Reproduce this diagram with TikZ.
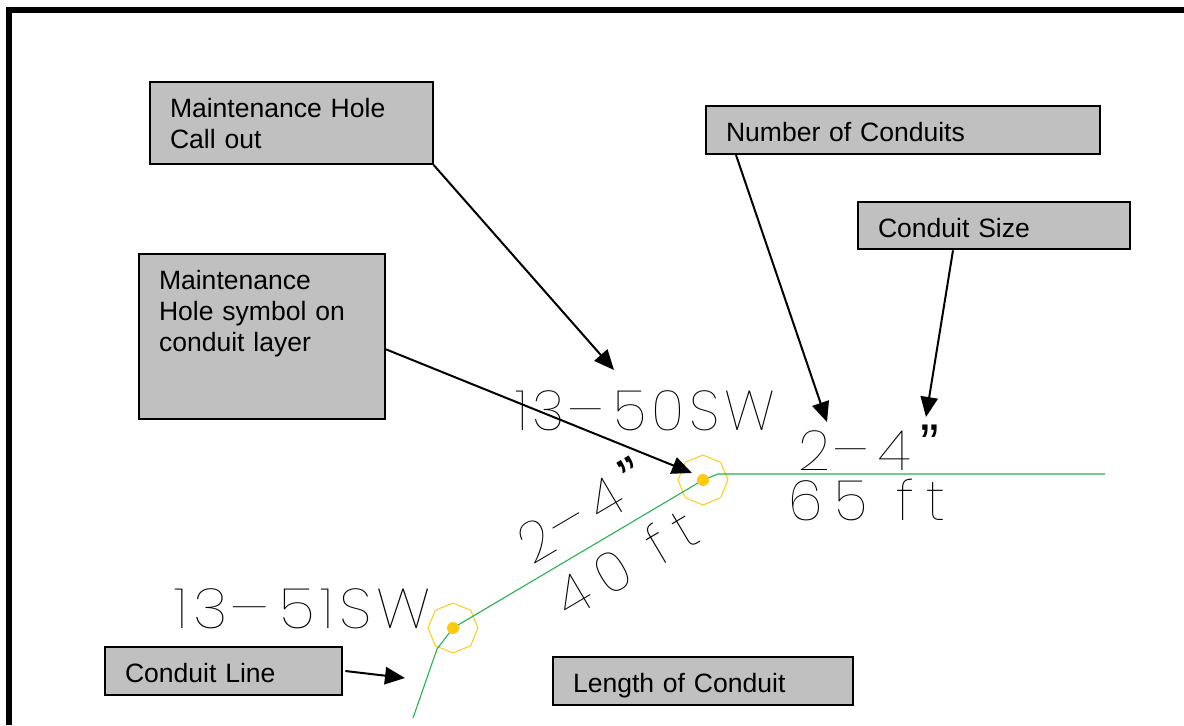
\documentclass[tikz,border=0pt]{standalone}
\usepackage{graphicx}
\usepackage{fontspec}
\setmainfont{Liberation Sans}
\newfontfamily\cadfont{Poppins Thin}[LetterSpace=9]
\newfontfamily\cadwide{Poppins Thin}[LetterSpace=22]
\newcommand{\cadquote}{\hspace{8pt}\raisebox{5pt}{\normalfont ”}}
\newcommand{\caddash}{\hspace{6pt}\scalebox{1.5}[1]{-}\hspace{2pt}}
\usetikzlibrary{arrows.meta,shapes.geometric}

\definecolor{boxgray}{HTML}{C0C0C0}
\definecolor{conduitgreen}{HTML}{22B14C}
\definecolor{holeyellow}{HTML}{FFC90E}
\tikzstyle{callout}=[draw=black, line width=1.5pt, fill=boxgray, anchor=north west, align=left, inner xsep=15pt, inner ysep=0pt, text height=26.5pt, font=\fontsize{19.9}{23.4}\selectfont]
\tikzstyle{cadtext}=[font=\cadfont\fontsize{42}{42}\selectfont, inner sep=0pt, text=black]
\tikzstyle{cadsize}=[font=\cadwide\fontsize{42}{42}\selectfont, inner sep=0pt, text=black]
\tikzstyle{pointer}=[line width=1.5pt, -{Triangle[length=15pt,width=13pt]}]
\tikzstyle{conduit}=[draw=conduitgreen, line width=0.8pt]
\tikzstyle{holering}=[regular polygon, regular polygon sides=8, shape border rotate=22.5, draw=holeyellow, line width=0.7pt, minimum size=37.5pt, inner sep=0pt]
\tikzstyle{holedot}=[circle, fill=holeyellow, minimum size=9pt, inner sep=0pt]

\begin{document}
\begin{tikzpicture}[x=0.75pt,y=-0.75pt]
    \useasboundingbox (0,0) rectangle (1184,725);
    \path[fill=white] (0,0) rectangle (1184,725);
    \draw[line width=4.5pt] (9,725) -- (9,10) -- (1184,10);

    % callout boxes
    \node[callout, text width=182pt, text depth=35pt] (callout) at (149,81) {Maintenance Hole\\Call out};
    \node[callout, text width=154.5pt, text depth=97pt] (symbol) at (138,253) {Maintenance\\Hole symbol on\\conduit layer};
    \node[callout, text width=265.5pt, text depth=9.5pt] (number) at (705,105) {Number of Conduits};
    \node[callout, text width=174pt, text depth=9pt] (size) at (857,201) {Conduit Size};
    \node[callout, text width=148pt, text depth=9.5pt] (line) at (104,646) {Conduit Line};
    \node[callout, text width=195pt, text depth=9.5pt] (length) at (552,656) {Length of Conduit};

    % conduit run
    \node[holering] (mh1) at (703,480) {};
    \node[holering] (mh2) at (453,628) {};
    \coordinate (c1) at (413,718);
    \coordinate (c2) at (437,649);
    \coordinate (c3) at (718,474);
    \coordinate (c4) at (1105,474);
    \path[conduit]
    (c1) -- (c2) -- (mh2.center) -- (mh1.center) -- (c3) -- (c4)
	;
    \node[holedot] (dot1) at (mh1.center) {};
    \node[holedot] (dot2) at (mh2.center) {};

    % cad labels
    \node[cadtext] (label1) at (645,411) {13\caddash 50SW};
    \node[cadtext] (label2) at (303,609) {\scalebox{1.07}[1]{13\caddash 51SW}};
    \node[cadtext] (size1) at (869,448) {2\caddash 4\cadquote};
    \node[cadsize] (len1) at (867,500) {65 ft};
    \node[cadtext, rotate=30.6] (size2) at (582,510) {2\caddash 4\cadquote};
    \node[cadsize, rotate=30.6] (len2) at (626,563) {40 ft};

    % pointers
    \coordinate (t1) at (614,370);
    \coordinate (t2) at (692,473);
    \coordinate (t3) at (827,422);
    \coordinate (t4) at (926,417);
    \coordinate (t5) at (405,678);
    \path[draw,pointer] (callout.south east) -- (t1);
    \path[draw,pointer] (symbol.east) ++(0,13) -- (t2);
    \path[draw,pointer] (number.south west) ++(31,0) -- (t3);
    \path[draw,pointer] (size.south) ++(-41,0) -- (t4);
    \path[draw,pointer] (line.east) ++(2,0) -- (t5);
\end{tikzpicture}
\end{document}
